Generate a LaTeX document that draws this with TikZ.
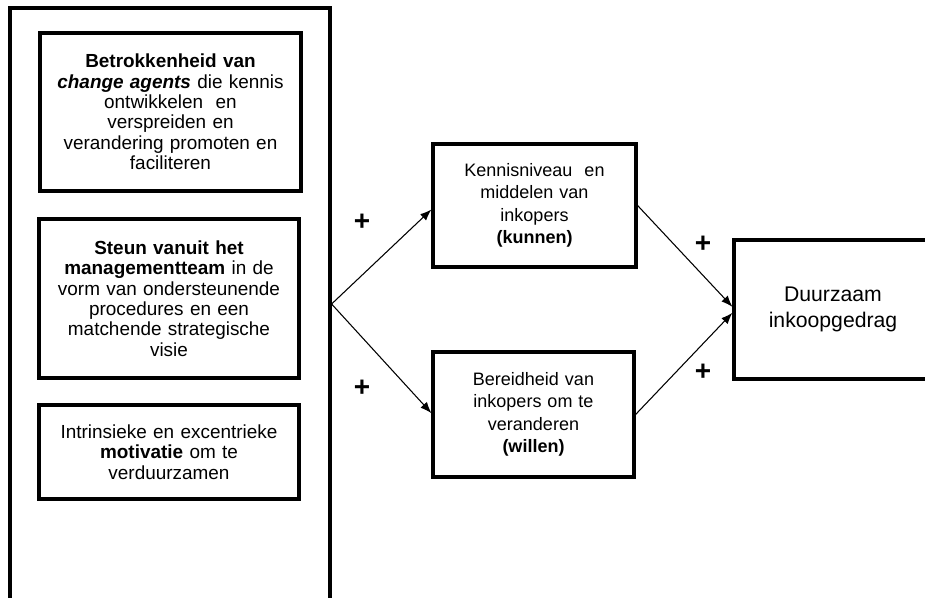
\documentclass[tikz,border=0pt]{standalone}
\usepackage{fontspec}
\setmainfont{Liberation Sans}
\usetikzlibrary{positioning,arrows.meta}

\tikzset{
	factor/.style={draw,line width=2.4pt,align=center,inner sep=2pt,
		font=\fontsize{13.5pt}{16.9pt}\selectfont},
	driver/.style={factor,font=\fontsize{14.2pt}{15.3pt}\selectfont},
	plus/.style={font=\fontsize{21pt}{21pt}\selectfont\bfseries},
	link/.style={-{Latex[length=8.5pt,width=6.5pt]},line width=0.8pt}
}

\begin{document}
\begin{tikzpicture}[x=0.75pt,y=-0.75pt]
\useasboundingbox (0,0) rectangle (925,597);
% left column
\node[draw,line width=2.4pt,minimum width=240pt,minimum height=459pt] (frame) at (170,314) {};
\node[driver,minimum width=195.75pt,minimum height=118.5pt,text width=190pt] (agents) at (170.5,112)
	{\textbf{Betrokkenheid van}\\\textbf{\textit{change agents}} die kennis\\ontwikkelen\ \ en\\verspreiden en\\verandering promoten en\\faciliteren};
\node[driver,minimum width=195pt,minimum height=119.25pt,text width=190pt] (steun) at (169,298.5)
	{\textbf{Steun vanuit het}\\\textbf{managementteam} in de\\vorm van ondersteunende\\procedures en een\\matchende strategische\\visie};
\node[driver,minimum width=195pt,minimum height=70.5pt,text width=190pt] (motivatie) at (169,452)
	{Intrinsieke en excentrieke\\\textbf{motivatie} om te\\verduurzamen};
% middle
\node[factor,minimum width=152.25pt,minimum height=92.25pt,text width=145pt] (kunnen) at (534.5,205.5)
	{Kennisniveau\ \ en\\middelen\ van\\inkopers\\\textbf{(kunnen)}};
\node[factor,minimum width=150.75pt,minimum height=93.75pt,text width=145pt] (willen) at (533.5,414.5)
	{Bereidheid\ van\\inkopers om te\\veranderen\\\textbf{(willen)}};
% right
\node[factor,minimum width=148.5pt,minimum height=104.25pt,text width=140pt,
	font=\fontsize{15.9pt}{20pt}\selectfont] (duur) at (833,309.5)
	{Duurzaam\\inkoopgedrag};

\coordinate (src) at ([yshift=7.5pt]frame.east);
\draw[link] (src) -- ([yshift=-3pt]kunnen.west);
\draw[link] (src) -- ([yshift=1pt]willen.west);
\draw[link] (kunnen.east) -- ([yshift=2pt]duur.west);
\draw[link] (willen.east) -- ([yshift=-2.5pt]duur.west);

\node[plus] (p1) at (362,222) {+};
\node[plus] (p2) at (362,388) {+};
\node[plus] (p3) at (703,244) {+};
\node[plus] (p4) at (703,372) {+};
\end{tikzpicture}
\end{document}
